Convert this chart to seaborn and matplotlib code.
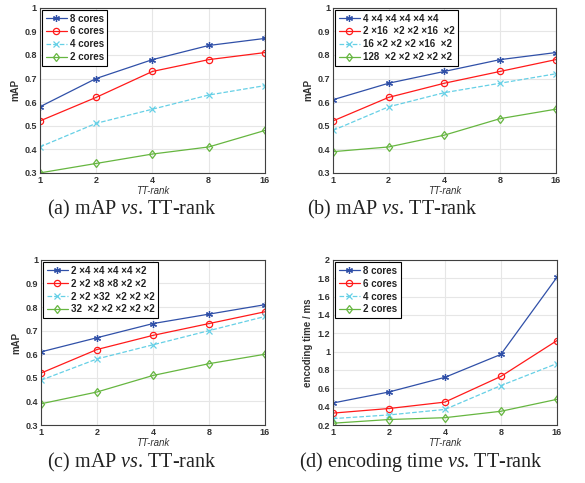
import numpy as np
import matplotlib
matplotlib.use("Agg")
import matplotlib.pyplot as plt
import seaborn as sns

sns.set_style("whitegrid")
plt.rcParams["font.family"] = ["Liberation Sans", "DejaVu Sans"]
plt.rcParams["mathtext.fontset"] = "custom"
plt.rcParams["mathtext.rm"] = "Liberation Serif"
plt.rcParams["mathtext.it"] = "Liberation Serif:italic"

# TT-rank values on the x axis
ranks = [1, 2, 4, 8, 16]

# (a) mAP vs TT-rank for different numbers of cores
cores_labels = ["8 cores", "6 cores", "4 cores", "2 cores"]
map_cores = [
    [0.58, 0.70, 0.78, 0.84, 0.87],
    [0.52, 0.62, 0.73, 0.78, 0.81],
    [0.41, 0.51, 0.57, 0.63, 0.67],
    [0.30, 0.34, 0.38, 0.41, 0.48],
]

# (b) mAP vs TT-rank for different core shapes
shape_labels_b = ["4 ×4 ×4 ×4 ×4 ×4", "2 ×16  ×2 ×2 ×16  ×2",
                  "16 ×2 ×2 ×2 ×16  ×2", "128  ×2 ×2 ×2 ×2 ×2"]
map_shapes_b = [
    [0.61, 0.68, 0.73, 0.78, 0.81],
    [0.52, 0.62, 0.68, 0.73, 0.78],
    [0.48, 0.58, 0.64, 0.68, 0.72],
    [0.39, 0.41, 0.46, 0.53, 0.57],
]

# (c) mAP vs TT-rank for other core shapes
shape_labels_c = ["2 ×4 ×4 ×4 ×4 ×2", "2 ×2 ×8 ×8 ×2 ×2",
                  "2 ×2 ×32  ×2 ×2 ×2", "32  ×2 ×2 ×2 ×2 ×2"]
map_shapes_c = [
    [0.61, 0.67, 0.73, 0.77, 0.81],
    [0.52, 0.62, 0.68, 0.73, 0.78],
    [0.49, 0.58, 0.64, 0.70, 0.76],
    [0.39, 0.44, 0.51, 0.56, 0.60],
]

# (d) encoding time (ms) vs TT-rank
enc_time = [
    [0.44, 0.56, 0.72, 0.97, 1.81],
    [0.33, 0.38, 0.45, 0.73, 1.12],
    [0.27, 0.31, 0.37, 0.63, 0.87],
    [0.22, 0.26, 0.28, 0.35, 0.48],
]

captions = ["(a) mAP $\\it{vs}$. TT-rank", "(b) mAP $\\it{vs}$. TT-rank",
            "(c) mAP $\\it{vs}$. TT-rank", "(d) encoding time $\\it{vs}$. TT-rank"]

colors = ["#3050a8", "#ff1a1a", "#66d0e6", "#66b640"]
markers = [(6, 2, 0), "o", "x", "d"]
msizes = [5, 4.5, 4, 4.5]
dashes = ["-", "-", "--", "-"]


def draw_panel(ax, series, labels, ylabel, ylim, yticks):
    for vals, lab, c, m, ms, ls in zip(series, labels, colors, markers, msizes, dashes):
        face = "none" if m in ("o", "d") else c
        sns.lineplot(x=ranks, y=vals, ax=ax, color=c, marker=m, linestyle=ls,
                     linewidth=0.9, markersize=ms,
                     markerfacecolor=face, markeredgecolor=c,
                     markeredgewidth=0.9, label=lab)
    ax.set_xscale("log", base=2)
    ax.set_xlim(1, 16)
    ax.set_xticks(ranks)
    ax.set_xticklabels([str(r) for r in ranks])
    ax.minorticks_off()
    ax.set_ylim(*ylim)
    ax.set_yticks(yticks)
    ax.set_yticklabels([f"{v:g}" for v in yticks])
    ax.tick_params(axis="both", labelsize=6.5, direction="in", length=2.5,
                   width=0.6, color="#444444", pad=2)
    for lbl in ax.get_xticklabels() + ax.get_yticklabels():
        lbl.set_fontweight("bold")
        lbl.set_color("#333333")
    ax.grid(True, color="#e6e6e6", linewidth=0.8)
    for sp in ax.spines.values():
        sp.set_color("#404040")
        sp.set_linewidth(0.8)
    ax.set_xlabel("TT-rank", fontsize=7, style="italic", labelpad=1, color="#333333")
    ax.set_ylabel(ylabel, fontsize=7, fontweight="bold", labelpad=3, color="#333333")
    leg = ax.legend(loc="upper left", fontsize=7, frameon=True, fancybox=False,
                    borderpad=0.35, labelspacing=0.3, handlelength=2.2,
                    handletextpad=0.3, borderaxespad=0.25)
    leg.get_frame().set_edgecolor("black")
    leg.get_frame().set_linewidth(0.8)
    leg.get_frame().set_alpha(1)
    for t in leg.get_texts():
        t.set_fontweight("bold")
        t.set_color("#222222")


fig = plt.figure(figsize=(5.85, 4.83), dpi=100)
positions = [
    [0.068, 0.642, 0.385, 0.342],
    [0.569, 0.642, 0.381, 0.342],
    [0.070, 0.120, 0.383, 0.342],
    [0.569, 0.120, 0.383, 0.342],
]
axes = [fig.add_axes(p) for p in positions]

map_ticks = np.round(np.arange(0.3, 1.01, 0.1), 1)
time_ticks = np.round(np.arange(0.2, 2.01, 0.2), 1)

draw_panel(axes[0], map_cores, cores_labels, "mAP", (0.3, 1.0), map_ticks)
draw_panel(axes[1], map_shapes_b, shape_labels_b, "mAP", (0.3, 1.0), map_ticks)
draw_panel(axes[2], map_shapes_c, shape_labels_c, "mAP", (0.3, 1.0), map_ticks)
draw_panel(axes[3], enc_time, cores_labels, "encoding time / ms", (0.2, 2.0), time_ticks)

caption_xy = [(0.225, 0.566), (0.67, 0.566), (0.225, 0.043), (0.72, 0.043)]
for (cx, cy), cap in zip(caption_xy, captions):
    fig.text(cx, cy, cap, ha="center", va="center", fontsize=14.5,
             family="Liberation Serif", color="#222222")

fig.savefig("out.png", dpi=100)
